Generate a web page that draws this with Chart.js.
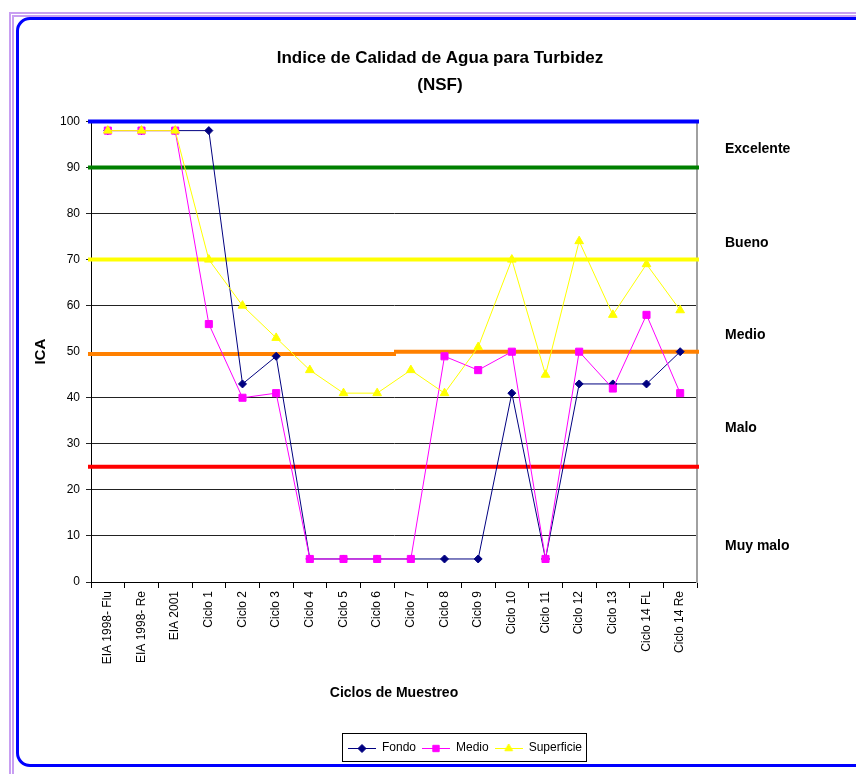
<!DOCTYPE html>
<html>
<head>
<meta charset="utf-8">
<title>Indice de Calidad de Agua para Turbidez</title>
<script src="https://cdn.jsdelivr.net/npm/chart.js@4.4.1/dist/chart.umd.min.js"></script>
<style>
  html, body { margin: 0; padding: 0; background: #fff; overflow: hidden; }
  #wrap { position: relative; width: 856px; height: 774px; overflow: hidden; }
  #outer { position: absolute; left: 9px; top: 12px; width: 900px; height: 800px;
           border-left: 5px double #c89ef2; border-top: 5px double #c89ef2; }
  #frame { position: absolute; left: 16px; top: 17px; width: 860px; height: 744px;
           border: 3px solid #0000ff; border-radius: 14px; }
  #myChart { position: absolute; left: 0; top: 0; }
</style>
</head>
<body>
<div id="wrap">
  <div id="outer"></div>
  <div id="frame"></div>
  <canvas id="myChart" width="856" height="774"></canvas>
</div>
<script>
// sampling cycles on the x axis
var categories = ['EIA 1998- Flu', 'EIA 1998- Re', 'EIA 2001', 'Ciclo 1', 'Ciclo 2', 'Ciclo 3',
  'Ciclo 4', 'Ciclo 5', 'Ciclo 6', 'Ciclo 7', 'Ciclo 8', 'Ciclo 9', 'Ciclo 10', 'Ciclo 11',
  'Ciclo 12', 'Ciclo 13', 'Ciclo 14 FL', 'Ciclo 14 Re'];

// ICA per depth
var fondo      = [98, 98, 98, 98, 43, 49, 5, 5, 5, 5, 5, 5, 41, 5, 43, 43, 43, 50];
var medio      = [98, 98, 98, 56, 40, 41, 5, 5, 5, 5, 49, 46, 50, 5, 50, 42, 58, 41];
var superficie = [98, 98, 98, 70, 60, 53, 46, 41, 41, 46, 41, 51, 70, 45, 74, 58, 69, 59];

// quality class limits (value, first and last category they span)
var limitValues = [100, 90, 70, 49.5, 50, 25];
var limitFrom   = [0, 0, 0, 0, 9, 0];
var limitTo     = [17, 17, 17, 8, 17, 17];
var limitColors = ['#0000ff', '#008000', '#ffff00', '#ff8000', '#ff8000', '#ff0000'];

// class names shown on the right
var zoneNames  = ['Excelente', 'Bueno', 'Medio', 'Malo', 'Muy malo'];
var zoneLevels = [94, 73.5, 53.5, 33.3, 7.8];

var sans = "'Liberation Sans', Arial, sans-serif";

Chart.defaults.color = '#000';
Chart.defaults.font.family = sans;

// little line+marker pictures for the legend
function makeIcon(color, style, radius) {
  var c = document.createElement('canvas');
  c.width = 28;
  c.height = 12;
  var ctx = c.getContext('2d');
  ctx.strokeStyle = color;
  ctx.fillStyle = color;
  ctx.lineWidth = 1;
  ctx.beginPath();
  ctx.moveTo(0, 6.5);
  ctx.lineTo(28, 6.5);
  ctx.stroke();
  Chart.helpers.drawPoint(ctx, {pointStyle: style, radius: radius, rotation: 0, borderWidth: 1}, 14, 6.5);
  return c;
}

var icons = [
  makeIcon('#000080', 'rectRot', 4),
  makeIcon('#ff00ff', 'rect', 4.5),
  makeIcon('#ffff00', 'triangle', 4.5)
];

// horizontal class limit lines, under the series
var limitLines = {
  id: 'limitLines',
  beforeDatasetsDraw: function(chart) {
    var ctx = chart.ctx, x = chart.scales.x, y = chart.scales.y;
    var step = x.getPixelForValue(1) - x.getPixelForValue(0);
    ctx.save();
    ctx.lineWidth = 4;
    for (var i = 0; i < limitValues.length; i++) {
      var py = y.getPixelForValue(limitValues[i]);
      var x0 = x.getPixelForValue(limitFrom[i]) - step / 2;
      if (limitFrom[i] === 0) x0 -= 3;
      ctx.strokeStyle = limitColors[i];
      ctx.beginPath();
      ctx.moveTo(x0, py);
      ctx.lineTo(x.getPixelForValue(limitTo[i]) + step / 2 + 2, py);
      ctx.stroke();
    }
    ctx.restore();
  }
};

// nudge the legend a bit right, then frame it
var legendBox = {
  id: 'legendBox',
  afterLayout: function(chart) {
    var lg = chart.legend;
    lg.left += 25;
    lg.right += 25;
    lg.legendHitBoxes.forEach(function(h) { h.left += 25; });
  },
  afterDraw: function(chart) {
    var boxes = chart.legend.legendHitBoxes;
    if (!boxes || !boxes.length) return;
    var l = Infinity, r = -Infinity, t = Infinity, b = -Infinity;
    boxes.forEach(function(h) {
      l = Math.min(l, h.left); r = Math.max(r, h.left + h.width);
      t = Math.min(t, h.top); b = Math.max(b, h.top + h.height);
    });
    var ctx = chart.ctx;
    ctx.save();
    ctx.strokeStyle = '#000';
    ctx.lineWidth = 1;
    ctx.strokeRect(Math.round(l) - 5.5, Math.round(t) - 8.5, Math.round(r - l) + 10, Math.round(b - t) + 16);
    ctx.restore();
  }
};

var graph = document.getElementById('myChart');

var myChart = new Chart(graph, {
  type: 'line',
  data: {
    labels: categories,
    datasets: [{
      label: 'Fondo',
      data: fondo,
      borderColor: '#000080',
      backgroundColor: '#000080',
      borderWidth: 1,
      pointStyle: 'rectRot',
      pointRadius: 4,
      order: 3
    }, {
      label: 'Medio',
      data: medio,
      borderColor: '#ff00ff',
      backgroundColor: '#ff00ff',
      borderWidth: 1,
      pointStyle: 'rect',
      pointRadius: 5,
      order: 2
    }, {
      label: 'Superficie',
      data: superficie,
      borderColor: '#ffff00',
      backgroundColor: '#ffff00',
      borderWidth: 1,
      pointStyle: 'triangle',
      pointRadius: 5,
      order: 1
    }]
  }, // ends data
  options: {
    responsive: false,
    animation: false,
    layout: {padding: {left: 24, right: 0, top: 0, bottom: 10}},
    plugins: {
      title: {
        display: true,
        text: ['Indice de Calidad de Agua para Turbidez', '(NSF)'],
        font: {size: 17, weight: 'bold', lineHeight: 1.6},
        padding: {top: 45, bottom: 22}
      },
      legend: {
        position: 'bottom',
        labels: {
          usePointStyle: true,
          pointStyleWidth: 28,
          boxHeight: 12,
          padding: 6,
          font: {size: 12},
          sort: function(a, b) { return a.datasetIndex - b.datasetIndex; },
          generateLabels: function(chart) {
            var items = Chart.defaults.plugins.legend.labels.generateLabels(chart);
            items.forEach(function(it) { it.pointStyle = icons[it.datasetIndex]; });
            return items;
          }
        }
      },
      tooltip: {enabled: false}
    },
    scales: {
      x: {
        offset: true,
        grid: {offset: true, drawOnChartArea: false, tickLength: 6, color: '#000'},
        border: {color: '#000'},
        ticks: {maxRotation: 90, minRotation: 90, autoSkip: false, padding: 3, font: {size: 12}},
        title: {
          display: true,
          text: 'Ciclos de Muestreo',
          font: {size: 14, weight: 'bold'},
          padding: {top: 4, bottom: 34}
        },
        afterFit: function(scale) { scale.height = 154; }
      },
      y: {
        min: 0,
        max: 100,
        ticks: {stepSize: 10, padding: 6, font: {size: 12}},
        grid: {
          tickLength: 5,
          color: function(c) { return c.tick && c.tick.value === 50 ? 'rgba(0,0,0,0)' : '#222'; }
        },
        border: {color: '#000'},
        title: {
          display: true,
          text: 'ICA',
          font: {size: 15, weight: 'bold'},
          padding: {top: 8, bottom: 0}
        },
        afterFit: function(scale) { scale.width = 67; }
      },
      y2: {
        position: 'right',
        min: 0,
        max: 100,
        grid: {display: false, drawTicks: false},
        border: {color: '#a0a0a0', width: 2},
        afterBuildTicks: function(scale) {
          scale.ticks = zoneLevels.map(function(v) { return {value: v}; });
        },
        ticks: {
          padding: 28,
          font: {size: 14, weight: 'bold'},
          callback: function(value, index) { return zoneNames[index]; }
        },
        afterFit: function(scale) { scale.width = 159; }
      }
    }
  },
  plugins: [limitLines, legendBox]
}); // ends the chart
</script>
</body>
</html>
